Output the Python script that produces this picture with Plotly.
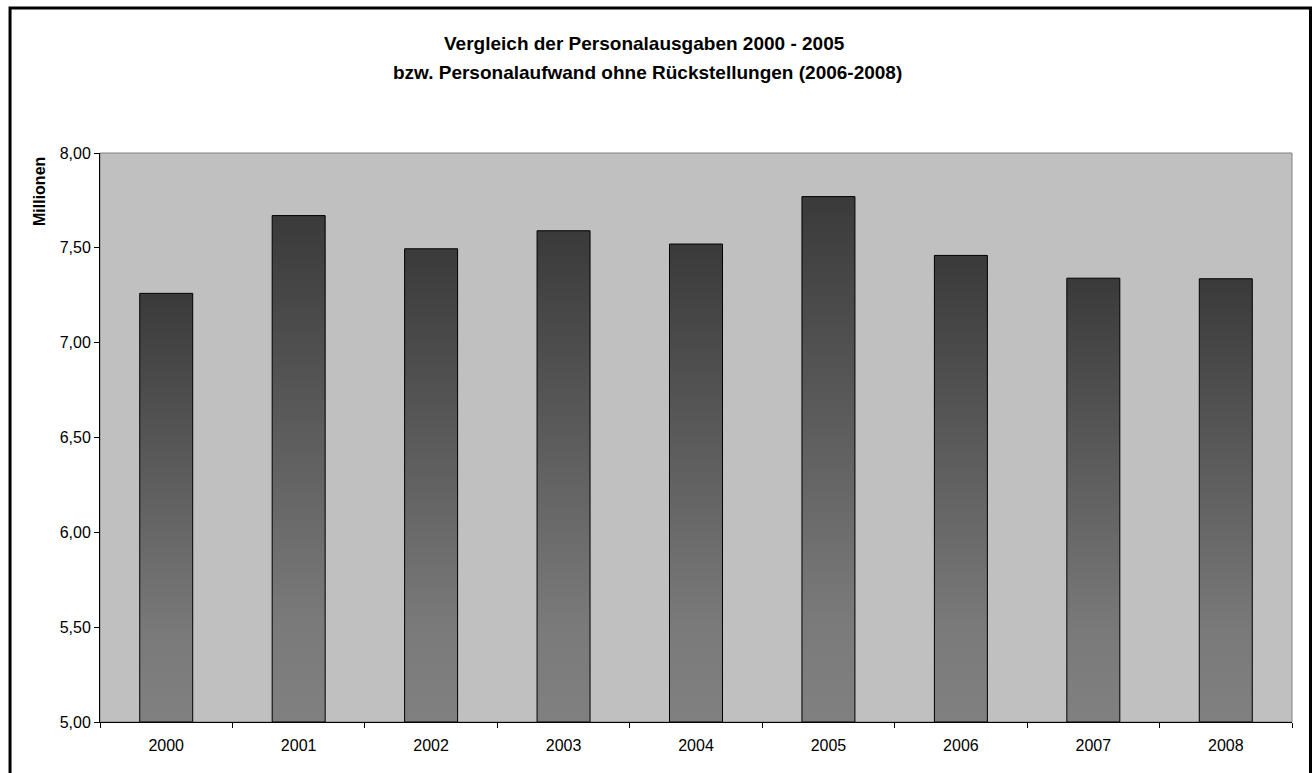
import plotly.graph_objects as go

years = ["2000", "2001", "2002", "2003", "2004", "2005", "2006", "2007", "2008"]
values = [7.26, 7.67, 7.495, 7.59, 7.52, 7.77, 7.46, 7.34, 7.337]
y_ticks = [5.0, 5.5, 6.0, 6.5, 7.0, 7.5, 8.0]
title_lines = ["Vergleich der Personalausgaben 2000 - 2005",
               "bzw. Personalaufwand ohne Rückstellungen (2006-2008)"]
y_title = "Millionen"

BASE = 5.0
HALF = 0.2
W, H = 1314, 773
L, R, T, B = 100, 1314 - 1292.5, 153, 773 - 722
pw, ph = W - L - R, H - T - B

def px_x(p):
    return (p - L) / pw

def px_y(p):
    return (H - B - p) / ph

fig = go.Figure()
grad = [[0, "#808080"], [0.2, "#7a7a7a"], [0.45, "#666666"], [0.7, "#525252"], [1, "#3a3a3a"]]
for i, v in enumerate(values):
    fig.add_trace(go.Scatter(
        x=[i - HALF, i + HALF, i + HALF, i - HALF, i - HALF],
        y=[BASE, BASE, v, v, BASE],
        mode="lines", fill="toself",
        line=dict(color="#000000", width=1),
        fillgradient=dict(type="vertical", colorscale=grad),
        hoverinfo="skip", showlegend=False,
    ))

font_family = "Liberation Sans, Arial, sans-serif"

fig.update_layout(
    width=W, height=H,
    margin=dict(l=L, r=R, t=T, b=B),
    paper_bgcolor="white", plot_bgcolor="#c0c0c0",
    separators=",.",
    font=dict(family=font_family, size=16, color="black"),
    showlegend=False,
    xaxis=dict(
        range=[-0.5, len(years) - 0.5],
        tickmode="array", tickvals=list(range(len(years))), ticktext=years,
        ticks="outside", ticklen=9, tickcolor="rgba(0,0,0,0)",
        showgrid=False, zeroline=False,
        showline=True, linecolor="#000000", linewidth=1,
        minor=dict(ticks="outside", tickmode="array",
                   tickvals=[i - 0.5 for i in range(len(years) + 1)],
                   ticklen=5, tickcolor="#000000", tickwidth=1, showgrid=False),
        tickfont=dict(size=16),
        fixedrange=True,
    ),
    yaxis=dict(
        range=[5, 8], tickmode="array", tickvals=y_ticks,
        tickformat=".2f",
        ticks="outside", ticklen=5, tickcolor="#000000",
        showgrid=False, zeroline=False,
        showline=True, linecolor="#000000", linewidth=1,
        tickfont=dict(size=16),
        fixedrange=True,
    ),
)

# plot area top/right border in grey
fig.add_shape(type="rect", xref="paper", yref="paper", x0=0, x1=1, y0=0, y1=1,
              line=dict(color="#808080", width=1), layer="below")
# outer chart frame
fig.add_shape(type="rect", xref="paper", yref="paper",
              x0=px_x(10), x1=px_x(1311), y0=px_y(778), y1=px_y(8),
              line=dict(color="#000000", width=3))

fig.add_annotation(text="<b>%s</b>" % title_lines[0], xref="paper", yref="paper",
                   x=px_x(645), y=px_y(43), showarrow=False,
                   font=dict(size=19, family=font_family), xanchor="center", yanchor="middle")
fig.add_annotation(text="<b>%s</b>" % title_lines[1], xref="paper", yref="paper",
                   x=px_x(648), y=px_y(73), showarrow=False,
                   font=dict(size=19, family=font_family), xanchor="center", yanchor="middle")
fig.add_annotation(text="<b>%s</b>" % y_title, xref="paper", yref="paper",
                   x=px_x(40), y=px_y(192), showarrow=False, textangle=-90,
                   font=dict(size=16, family=font_family), xanchor="center", yanchor="middle")

fig.write_html("out.html", config={"displayModeBar": False},
               post_script="document.body.style.margin='0';document.body.style.overflow='hidden';")
